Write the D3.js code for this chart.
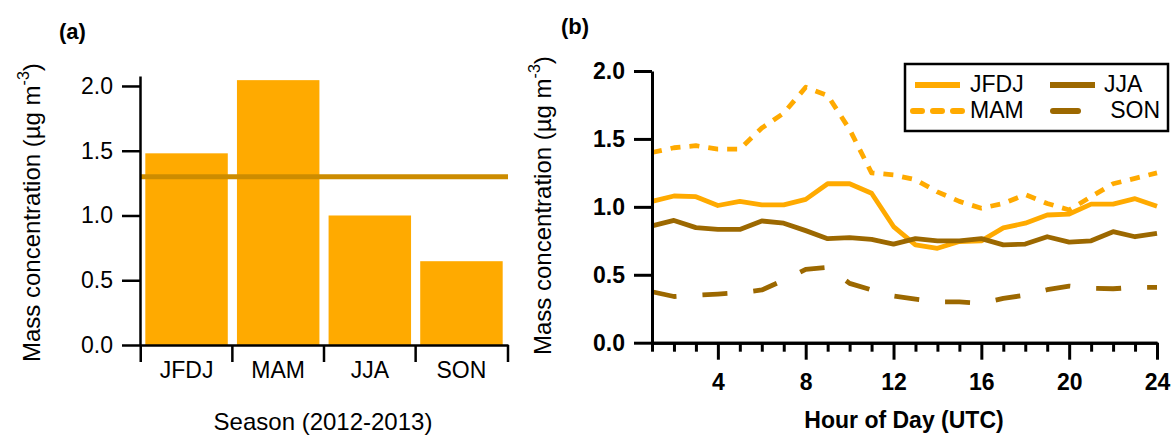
<!DOCTYPE html>
<html>
<head>
<meta charset="utf-8">
<script src="https://cdn.jsdelivr.net/npm/d3@7"></script>
<style>
  body { margin: 0; background: white; }
  svg { display: block; font-family: "Liberation Sans", Arial, sans-serif; }
</style>
</head>
<body>
<div id="chart"></div>
<script>
// panel (a): seasonal means
let seasons = ['JFDJ', 'MAM', 'JJA', 'SON'];
let seasonMeans = [1.48, 2.045, 1.0, 0.647];
let annualMean = 1.30;

// panel (b): diurnal cycles, hour 1..24
let hours = d3.range(1, 25);
let jfdj = [1.04, 1.08, 1.075, 1.01, 1.04, 1.015, 1.015, 1.055, 1.17, 1.17, 1.10, 0.855,
            0.72, 0.695, 0.745, 0.75, 0.845, 0.88, 0.94, 0.947, 1.02, 1.02, 1.06, 1.005];
let mam  = [1.40, 1.435, 1.45, 1.425, 1.425, 1.58, 1.69, 1.88, 1.82, 1.57, 1.25, 1.235,
            1.20, 1.11, 1.04, 0.99, 1.025, 1.09, 1.025, 0.977, 1.075, 1.17, 1.21, 1.25];
let jja  = [0.86, 0.90, 0.847, 0.834, 0.834, 0.896, 0.88, 0.825, 0.766, 0.773, 0.76, 0.726,
            0.766, 0.75, 0.75, 0.766, 0.72, 0.726, 0.78, 0.74, 0.75, 0.817, 0.78, 0.805];
let son  = [0.375, 0.34, 0.35, 0.358, 0.368, 0.388, 0.46, 0.54, 0.555, 0.437, 0.388, 0.343,
            0.32, 0.30, 0.30, 0.29, 0.326, 0.35, 0.39, 0.417, 0.40, 0.397, 0.407, 0.407];
let yTicks = [0, 0.5, 1.0, 1.5, 2.0];
let hourTicks = [4, 8, 12, 16, 20, 24];

let orange = '#FFAA00',
    brown = '#9C6800',
    lineColor = '#CC8C00';

let svg = d3.select('#chart')
  .append('svg')
    .attr('width', 1176)
    .attr('height', 437)
    .style('background', 'white');

function yTitle(g, x, y) {
  let t = g.append('text')
    .attr('transform', 'translate(' + x + ',' + y + ') rotate(-90)')
    .style('font-size', '24px')
    .attr('fill', 'black');
  t.append('tspan').text('Mass concentration (\u00b5g m');
  t.append('tspan').attr('dy', -11).style('font-size', '16px').text('-3');
  t.append('tspan').attr('dy', 11).text(')');
}

// ---------- panel (a) ----------
let xa = d3.scaleBand()
  .domain(seasons)
  .range([140, 508])
  .paddingInner(0.1)
  .paddingOuter(0.058);

let ya = d3.scaleLinear()
  .domain([0, 2.077])
  .range([345, 76]);

let ga = svg.append('g');

ga.selectAll('rect.bar')
  .data(seasons)
  .enter()
  .append('rect')
    .attr('class', 'bar')
    .attr('x', d => xa(d))
    .attr('width', xa.bandwidth())
    .attr('y', (d, i) => ya(seasonMeans[i]))
    .attr('height', (d, i) => ya(0) - ya(seasonMeans[i]))
    .attr('fill', orange);

ga.append('line')
  .attr('x1', xa.range()[0]).attr('x2', xa.range()[1])
  .attr('y1', ya(annualMean)).attr('y2', ya(annualMean))
  .attr('stroke', lineColor)
  .attr('stroke-width', 5);

let yAxisA = ga.append('g')
  .attr('transform', 'translate(140,0)')
  .call(d3.axisLeft(ya).tickValues(yTicks).tickFormat(d3.format('.1f')).tickSize(18).tickSizeOuter(0).tickPadding(9));

let xAxisA = ga.append('g')
  .attr('transform', 'translate(0,345)')
  .call(d3.axisBottom(xa).tickSize(0).tickPadding(17));

// category boundary ticks
let gap = xa.step() * xa.paddingInner() / 2;
let bounds = seasons.map(d => xa(d) - gap).concat([xa.range()[1]]);
xAxisA.selectAll('line.bound')
  .data(bounds)
  .enter()
  .append('line')
    .attr('class', 'bound')
    .attr('x1', d => d).attr('x2', d => d)
    .attr('y1', 0).attr('y2', 17)
    .attr('stroke', 'black')
    .attr('stroke-width', 2.5);

[yAxisA, xAxisA].forEach(ax => {
  ax.selectAll('path.domain').attr('stroke', 'black').attr('stroke-width', 2.5);
  ax.selectAll('.tick line').attr('stroke', 'black').attr('stroke-width', 2.5);
  ax.selectAll('text').style('font-size', '23px').style('font-family', '"Liberation Sans", Arial, sans-serif').attr('fill', 'black');
});

ga.append('text')
  .attr('x', 323).attr('y', 430)
  .attr('text-anchor', 'middle')
  .style('font-size', '24px')
  .text('Season (2012-2013)');

yTitle(ga, 39.5, 362);

ga.append('text')
  .attr('x', 59).attr('y', 39)
  .style('font-size', '22px')
  .style('font-weight', 'bold')
  .text('(a)');

// ---------- panel (b) ----------
let xb = d3.scaleLinear()
  .domain([1, 24])
  .range([652, 1157]);

let yb = d3.scaleLinear()
  .domain([0, 2])
  .range([342.7, 71]);

let gb = svg.append('g');

let series = [
  { name: 'JFDJ', values: jfdj, color: orange, dash: null },
  { name: 'MAM', values: mam, color: orange, dash: '10,9' },
  { name: 'JJA', values: jja, color: brown, dash: null },
  { name: 'SON', values: son, color: brown, dash: '25,26' }
];

let line = d3.line()
  .x((d, i) => xb(hours[i]))
  .y(d => yb(d));

gb.selectAll('path.series')
  .data(series)
  .enter()
  .append('path')
    .attr('class', 'series')
    .attr('d', d => line(d.values))
    .attr('fill', 'none')
    .attr('stroke', d => d.color)
    .attr('stroke-width', 4.8)
    .attr('stroke-linejoin', 'round')
    .attr('stroke-dasharray', d => d.dash);

let yAxisB = gb.append('g')
  .attr('transform', 'translate(652,0)')
  .call(d3.axisLeft(yb).tickValues(yTicks).tickFormat(d3.format('.1f')).tickSize(18).tickSizeOuter(0).tickPadding(9));

let xMinor = gb.append('g')
  .attr('transform', 'translate(0,342.7)')
  .call(d3.axisBottom(xb).tickValues(hours.filter(h => h % 4 != 0)).tickFormat('').tickSize(9).tickSizeOuter(0));

let xMajor = gb.append('g')
  .attr('transform', 'translate(0,342.7)')
  .call(d3.axisBottom(xb).tickValues(hourTicks).tickSize(17).tickSizeOuter(0).tickPadding(14));

[yAxisB, xMinor, xMajor].forEach(ax => {
  ax.selectAll('path.domain').attr('stroke', 'black').attr('stroke-width', 3);
  ax.selectAll('.tick line').attr('stroke', 'black').attr('stroke-width', 3);
  ax.selectAll('text').style('font-size', '23px').style('font-weight', 'bold').style('font-family', '"Liberation Sans", Arial, sans-serif').attr('fill', 'black');
});

gb.append('text')
  .attr('x', 904).attr('y', 428)
  .attr('text-anchor', 'middle')
  .style('font-size', '23px')
  .style('font-weight', 'bold')
  .text('Hour of Day (UTC)');

yTitle(gb, 551, 355);

gb.append('text')
  .attr('x', 561).attr('y', 34)
  .style('font-size', '22px')
  .style('font-weight', 'bold')
  .text('(b)');

// legend
let legend = gb.append('g');
legend.append('rect')
  .attr('x', 905).attr('y', 64)
  .attr('width', 263).attr('height', 67)
  .attr('fill', 'white')
  .attr('stroke', 'black')
  .attr('stroke-width', 2.5);

let legendPos = [
  { x1: 915, x2: 960, y: 85, tx: 970, anchor: 'start' },
  { x1: 913, x2: 962, y: 111, tx: 970, anchor: 'start' },
  { x1: 1050, x2: 1095, y: 85, tx: 1104, anchor: 'start' },
  { x1: 1053, x2: 1078, y: 111, tx: 1160, anchor: 'end' }
];

series.forEach((s, i) => {
  let p = legendPos[i];
  legend.append('line')
    .attr('x1', p.x1).attr('x2', p.x2)
    .attr('y1', p.y).attr('y2', p.y)
    .attr('stroke', s.color)
    .attr('stroke-width', 6)
    .attr('stroke-dasharray', s.name == 'MAM' ? '9,11' : null)
    .attr('stroke-linecap', s.name == 'MAM' || s.name == 'SON' ? 'round' : 'butt');
  legend.append('text')
    .attr('x', p.tx).attr('y', p.y + 7)
    .attr('text-anchor', p.anchor)
    .style('font-size', '23px')
    .text(s.name);
});
</script>
</body>
</html>
